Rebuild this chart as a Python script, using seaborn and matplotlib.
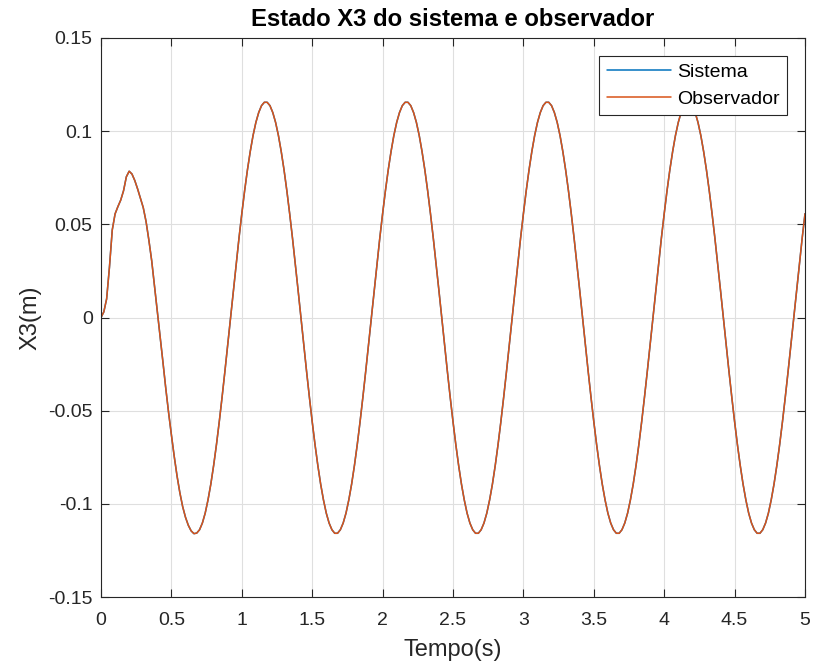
import numpy as np
import pandas as pd
import matplotlib
matplotlib.use("Agg")
import matplotlib.pyplot as plt
import seaborn as sns

# Time samples (s), 0.02 s step
tempo = [round(0.02 * i, 2) for i in range(251)]

# State X3 (m): start-up transient, 0 .. 0.90 s
x3_inicio = [
    0.0000, 0.0030, 0.0100, 0.0270, 0.0470, 0.0556, 0.0595, 0.0630, 0.0680, 0.0755,
    0.0785, 0.0770, 0.0735, 0.0690, 0.0640, 0.0590, 0.0515, 0.0415, 0.0305, 0.0170,
    0.0040, -0.0100, -0.0240, -0.0380, -0.0510, -0.0630, -0.0745, -0.0850, -0.0940,
    -0.1015, -0.1072, -0.1115, -0.1145, -0.1160, -0.1157, -0.1139, -0.1103, -0.1050,
    -0.0979, -0.0894, -0.0794, -0.0682, -0.0559, -0.0427, -0.0289, -0.0145,
]

# State X3 (m): steady oscillation, 0.92 .. 5.00 s
x3_regime = [
    # 0.92 - 1.90
    0.0000, 0.0145, 0.0288, 0.0426, 0.0557, 0.0680, 0.0792, 0.0891, 0.0977, 0.1047,
    0.1100, 0.1137, 0.1155, 0.1155, 0.1137, 0.1100, 0.1047, 0.0977, 0.0891, 0.0792,
    0.0680, 0.0557, 0.0426, 0.0288, 0.0145,
    0.0000, -0.0145, -0.0289, -0.0427, -0.0559, -0.0682, -0.0794, -0.0894, -0.0979, -0.1050,
    -0.1103, -0.1139, -0.1158, -0.1158, -0.1139, -0.1103, -0.1050, -0.0979, -0.0894, -0.0794,
    -0.0682, -0.0559, -0.0427, -0.0289, -0.0145,
    # 1.92 - 2.90
    0.0000, 0.0145, 0.0288, 0.0426, 0.0557, 0.0680, 0.0792, 0.0891, 0.0977, 0.1047,
    0.1100, 0.1137, 0.1155, 0.1155, 0.1137, 0.1100, 0.1047, 0.0977, 0.0891, 0.0792,
    0.0680, 0.0557, 0.0426, 0.0288, 0.0145,
    0.0000, -0.0145, -0.0289, -0.0427, -0.0559, -0.0682, -0.0794, -0.0894, -0.0979, -0.1050,
    -0.1103, -0.1139, -0.1158, -0.1158, -0.1139, -0.1103, -0.1050, -0.0979, -0.0894, -0.0794,
    -0.0682, -0.0559, -0.0427, -0.0289, -0.0145,
    # 2.92 - 3.90
    0.0000, 0.0145, 0.0288, 0.0426, 0.0557, 0.0680, 0.0792, 0.0891, 0.0977, 0.1047,
    0.1100, 0.1137, 0.1155, 0.1155, 0.1137, 0.1100, 0.1047, 0.0977, 0.0891, 0.0792,
    0.0680, 0.0557, 0.0426, 0.0288, 0.0145,
    0.0000, -0.0145, -0.0289, -0.0427, -0.0559, -0.0682, -0.0794, -0.0894, -0.0979, -0.1050,
    -0.1103, -0.1139, -0.1158, -0.1158, -0.1139, -0.1103, -0.1050, -0.0979, -0.0894, -0.0794,
    -0.0682, -0.0559, -0.0427, -0.0289, -0.0145,
    # 3.92 - 4.90
    0.0000, 0.0145, 0.0288, 0.0426, 0.0557, 0.0680, 0.0792, 0.0891, 0.0977, 0.1047,
    0.1100, 0.1137, 0.1155, 0.1155, 0.1137, 0.1100, 0.1047, 0.0977, 0.0891, 0.0792,
    0.0680, 0.0557, 0.0426, 0.0288, 0.0145,
    0.0000, -0.0145, -0.0289, -0.0427, -0.0559, -0.0682, -0.0794, -0.0894, -0.0979, -0.1050,
    -0.1103, -0.1139, -0.1158, -0.1158, -0.1139, -0.1103, -0.1050, -0.0979, -0.0894, -0.0794,
    -0.0682, -0.0559, -0.0427, -0.0289, -0.0145,
    # 4.92 - 5.00
    0.0000, 0.0145, 0.0288, 0.0426, 0.0557,
]

x3_sistema = x3_inicio + x3_regime
x3_observador = list(x3_sistema)

serie_nomes = ["Sistema", "Observador"]
serie_cores = ["#0072BD", "#D95319"]

x_ticks = [0, 0.5, 1, 1.5, 2, 2.5, 3, 3.5, 4, 4.5, 5]
x_ticklabels = ["0", "0.5", "1", "1.5", "2", "2.5", "3", "3.5", "4", "4.5", "5"]
y_ticks = [-0.15, -0.1, -0.05, 0, 0.05, 0.1, 0.15]
y_ticklabels = ["-0.15", "-0.1", "-0.05", "0", "0.05", "0.1", "0.15"]

df = pd.DataFrame({
    "Tempo": tempo * 2,
    "X3": x3_sistema + x3_observador,
    "Serie": [serie_nomes[0]] * len(tempo) + [serie_nomes[1]] * len(tempo),
})

sns.set_theme(style="white")
plt.rcParams["font.family"] = ["Liberation Sans", "DejaVu Sans"]

fig = plt.figure(figsize=(8.14, 6.68), dpi=100)
ax = fig.add_axes([101 / 814, 1 - 597 / 668, (805 - 101) / 814, (597 - 38) / 668])

sns.lineplot(data=df, x="Tempo", y="X3", hue="Serie", hue_order=serie_nomes,
             palette=serie_cores, linewidth=1.1, ax=ax, estimator=None, sort=False)

ax.set_xlim(0, 5)
ax.set_ylim(-0.15, 0.15)
ax.set_xticks(x_ticks)
ax.set_xticklabels(x_ticklabels)
ax.set_yticks(y_ticks)
ax.set_yticklabels(y_ticklabels)

ax.grid(True, color="#dfdfdf", linewidth=0.8)
ax.set_axisbelow(True)
for s in ax.spines.values():
    s.set_visible(True)
    s.set_color("#262626")
    s.set_linewidth(0.8)

ax.tick_params(axis="both", which="both", direction="in", length=6, width=0.8,
               color="#262626", labelsize=14, labelcolor="#262626",
               top=True, right=True, bottom=True, left=True)
ax.tick_params(axis="x", pad=11)
ax.tick_params(axis="y", pad=6)

ax.set_xlabel("Tempo(s)", fontsize=17, color="#262626", labelpad=7)
ax.set_ylabel("X3(m)", fontsize=17, color="#262626", labelpad=5)
ax.set_title("Estado X3 do sistema e observador", fontsize=17.2,
             fontweight="bold", color="black", pad=9)

leg = ax.legend(loc="upper right", fontsize=14, frameon=True, fancybox=False,
                framealpha=1.0, edgecolor="#262626", borderpad=0.4,
                handlelength=3.3, handletextpad=0.3, labelspacing=0.45,
                borderaxespad=0.92)
leg.get_frame().set_linewidth(0.8)
leg.set_zorder(5)
for text in leg.get_texts():
    text.set_color("black")

fig.savefig("out.png", dpi=100)
